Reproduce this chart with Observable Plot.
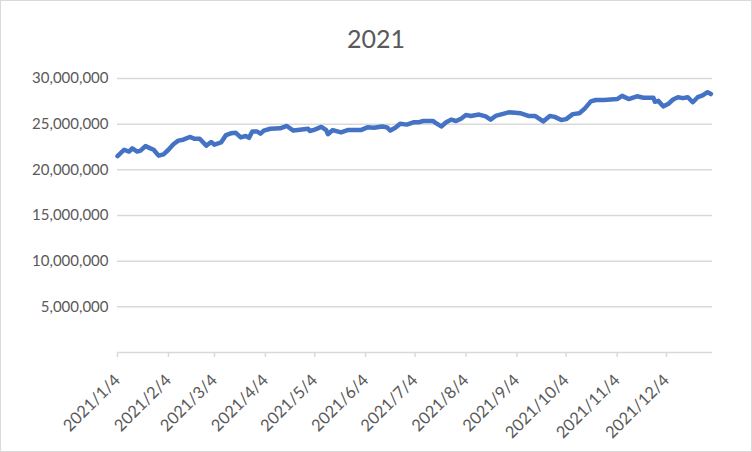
<!DOCTYPE html>
<html>
<head>
<meta charset="utf-8">
<script src="https://cdn.jsdelivr.net/npm/d3@7"></script>
<script src="https://cdn.jsdelivr.net/npm/@observablehq/plot@0.6"></script>
<style>
  html, body { margin: 0; padding: 0; background: #fff; }
  #chart { width: 752px; height: 452px; }
</style>
</head>
<body>
<div id="chart"></div>
<script>
const chartTitle = "2021";

const dates = [
  "2021-01-04","2021-01-08","2021-01-11","2021-01-13","2021-01-16","2021-01-18","2021-01-21","2021-01-24","2021-01-26","2021-01-29",
  "2021-02-01","2021-02-04","2021-02-07","2021-02-10","2021-02-13","2021-02-17","2021-02-20","2021-02-23","2021-02-27",
  "2021-03-02","2021-03-04","2021-03-08","2021-03-11","2021-03-14","2021-03-17","2021-03-20","2021-03-23","2021-03-25","2021-03-27","2021-03-30",
  "2021-04-01","2021-04-03","2021-04-07","2021-04-13","2021-04-17","2021-04-21","2021-04-25","2021-04-30",
  "2021-05-01","2021-05-04","2021-05-08","2021-05-11","2021-05-12","2021-05-15","2021-05-20","2021-05-24","2021-05-28",
  "2021-06-01","2021-06-05","2021-06-09","2021-06-14","2021-06-17","2021-06-19","2021-06-22","2021-06-25","2021-06-29",
  "2021-07-03","2021-07-06","2021-07-09","2021-07-15","2021-07-16","2021-07-20","2021-07-23","2021-07-26","2021-07-29",
  "2021-08-01","2021-08-04","2021-08-07","2021-08-12","2021-08-16","2021-08-19","2021-08-22","2021-08-26","2021-08-30",
  "2021-09-03","2021-09-06","2021-09-11","2021-09-15","2021-09-20","2021-09-24","2021-09-27",
  "2021-10-01","2021-10-04","2021-10-08","2021-10-12","2021-10-15","2021-10-19","2021-10-22","2021-10-27","2021-10-31",
  "2021-11-04","2021-11-07","2021-11-11","2021-11-16","2021-11-20","2021-11-26","2021-11-27","2021-11-29",
  "2021-12-02","2021-12-05","2021-12-08","2021-12-11","2021-12-14","2021-12-17","2021-12-20","2021-12-23","2021-12-26","2021-12-29","2021-12-31"
];

const values = [
  21500000,22200000,22000000,22350000,22000000,22100000,22600000,22350000,22200000,21550000,
  21700000,22200000,22800000,23200000,23300000,23600000,23400000,23400000,22650000,
  23050000,22750000,23000000,23800000,24000000,24050000,23550000,23700000,23500000,24200000,24200000,
  23950000,24300000,24500000,24550000,24800000,24300000,24400000,24500000,
  24250000,24400000,24700000,24350000,23900000,24350000,24100000,24350000,24350000,
  24350000,24650000,24600000,24750000,24650000,24300000,24600000,25050000,24950000,
  25200000,25200000,25350000,25350000,25200000,24750000,25200000,25500000,25350000,
  25600000,26000000,25900000,26050000,25850000,25500000,25900000,26100000,26300000,
  26250000,26200000,25900000,25900000,25300000,25900000,25800000,
  25450000,25550000,26100000,26200000,26650000,27500000,27650000,27650000,27700000,
  27750000,28100000,27750000,28050000,27900000,27900000,27450000,27550000,
  26950000,27200000,27700000,27950000,27850000,27950000,27400000,27950000,28150000,28500000,28300000
];

const xTickDates = [
  "2021-01-04","2021-02-04","2021-03-04","2021-04-04","2021-05-04","2021-06-04",
  "2021-07-04","2021-08-04","2021-09-04","2021-10-04","2021-11-04","2021-12-04"
];
const yTicks = [5000000, 10000000, 15000000, 20000000, 25000000, 30000000];

const xDomain = ["2021-01-04", "2022-01-01"];
const yDomain = [0, 30000000];

const data = dates.map((d, i) => ({date: new Date(d), value: values[i]}));
const fmtDate = d => `${d.getUTCFullYear()}/${d.getUTCMonth() + 1}/${d.getUTCDate()}`;

const plot = Plot.plot({
  width: 752,
  height: 452,
  marginLeft: 117,
  marginRight: 40,
  marginTop: 78,
  marginBottom: 100,
  style: {fontFamily: "Lato, 'Noto Sans', sans-serif", fontSize: "15px", color: "#595959", background: "#fff"},
  x: {type: "utc", domain: xDomain.map(d => new Date(d))},
  y: {domain: yDomain},
  marks: [
    Plot.gridY(yTicks, {stroke: "#d9d9d9", strokeOpacity: 1, strokeWidth: 1.5}),
    Plot.axisY(yTicks, {tickSize: 0, tickPadding: 9, tickFormat: d3.format(","), fill: "#595959", fontSize: 15, label: null}),
    Plot.ruleY([0], {stroke: "#d9d9d9", strokeWidth: 1.5}),
    Plot.axisX(xTickDates.map(d => new Date(d)), {
      tickSize: 5, stroke: "#d9d9d9", strokeWidth: 1.5, strokeOpacity: 1, text: null, label: null
    }),
    Plot.axisX(xTickDates.map(d => new Date(d)), {
      tickSize: 0, tickPadding: 25, tickRotate: -45, tickFormat: fmtDate,
      fill: "#595959", fontSize: 16.5, label: null
    }),
    Plot.line(data, {x: "date", y: "value", stroke: "#4472C4", strokeWidth: 4.5, strokeLinejoin: "round", strokeLinecap: "round"})
  ]
});

const svg = d3.select(plot);
svg.append("rect")
  .attr("x", 0.5).attr("y", 0.5).attr("width", 751).attr("height", 451)
  .attr("fill", "none").attr("stroke", "#d9d9d9").attr("stroke-width", 1);
svg.append("text")
  .attr("x", 376).attr("y", 48)
  .attr("text-anchor", "middle")
  .attr("font-size", 25)
  .attr("fill", "#595959")
  .text(chartTitle);

document.getElementById("chart").appendChild(plot);
</script>
</body>
</html>
